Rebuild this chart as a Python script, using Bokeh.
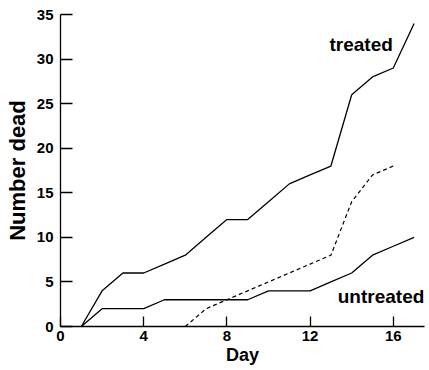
from bokeh.plotting import figure
from bokeh.models import Range1d, FixedTicker
from bokeh.core.properties import value
from bokeh.embed import file_html
from bokeh.resources import INLINE

days = list(range(1, 18))
treated = [0, 4, 6, 6, 7, 8, 10, 12, 12, 14, 16, 17, 18, 26, 28, 29, 34]
untreated = [0, 2, 2, 2, 3, 3, 3, 3, 3, 4, 4, 4, 5, 6, 8, 9, 10]
dashed_days = list(range(6, 17))
dashed = [0, 2, 3, 4, 5, 6, 7, 8, 14, 17, 18]
x_ticks = [0, 4, 8, 12, 16]
y_ticks = [0, 5, 10, 15, 20, 25, 30, 35]
labels = ["treated", "untreated"]
label_x = [12.93, 13.33]
label_y = [31.6, 3.37]

FONT = "Liberation Sans"

p = figure(width=427, height=367, output_backend="svg", toolbar_location=None,
           x_range=Range1d(0, 17.5), y_range=Range1d(0, 35),
           min_border_left=60, min_border_right=3, min_border_top=14, min_border_bottom=41)
p.outline_line_color = None
p.xgrid.visible = False
p.ygrid.visible = False

p.line(days, treated, line_color="black", line_width=1.3)
p.line(days, untreated, line_color="black", line_width=1.3)
p.line(dashed_days, dashed, line_color="black", line_width=1.2, line_dash="4 3")

p.text(x=label_x, y=label_y, text=labels, text_font=value(FONT), text_font_size="19px",
       text_font_style="bold", text_color="black", text_baseline="alphabetic", text_align="left")

for ax in (p.xaxis, p.yaxis):
    ax.axis_line_color = "black"
    ax.axis_line_width = 1.3
    ax.major_tick_line_color = "black"
    ax.major_tick_line_width = 1.3
    ax.minor_tick_line_color = None
    ax.major_tick_out = 0
    ax.major_label_text_font = FONT
    ax.major_label_text_font_style = "bold"
    ax.major_label_text_font_size = "15px"
    ax.major_label_text_color = "black"
    ax.axis_label_text_font = FONT
    ax.axis_label_text_font_style = "bold"
    ax.axis_label_text_color = "black"

p.xaxis.ticker = FixedTicker(ticks=x_ticks)
p.yaxis.ticker = FixedTicker(ticks=y_ticks)
p.xaxis.major_tick_in = 10
p.yaxis.major_tick_in = 12
p.xaxis.major_label_standoff = 4
p.yaxis.major_label_standoff = 7
p.xaxis.axis_label = "Day"
p.yaxis.axis_label = "Number dead"
p.xaxis.axis_label_text_font_size = "18px"
p.yaxis.axis_label_text_font_size = "22px"
p.xaxis.axis_label_standoff = 1
p.yaxis.axis_label_standoff = 4

open("out.html", "w").write(file_html(p, INLINE))
